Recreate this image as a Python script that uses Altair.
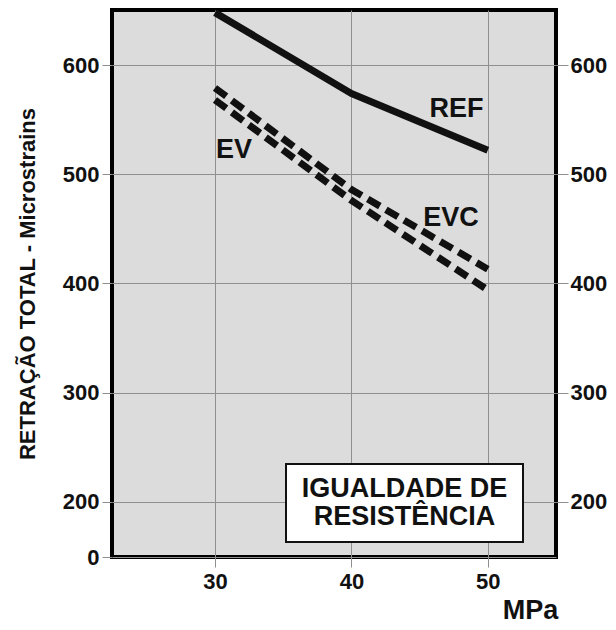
import altair as alt
import pandas as pd

# ---- data ----
mpa = [30, 40, 50]
ref = [648, 574, 522]
evc = [579, 486, 413]
ev = [568, 476, 394]

label_text = ["REF", "EV", "EVC"]
label_mpa = [47.7, 31.4, 47.3]
label_val = [560, 522, 460]

y_ticks_left = [149.4, 200, 300, 400, 500, 600]
y_ticks_right = [200, 300, 400, 500, 600]
x_ticks = [30, 40, 50]
box_lines = ["IGUALDADE DE", "RESISTÊNCIA"]

rows = []
for name, vals in [("REF", ref), ("EVC", evc), ("EV", ev)]:
    for m, v in zip(mpa, vals):
        rows.append({"serie": name, "mpa": m, "val": v})
df = pd.DataFrame(rows)
lab = pd.DataFrame({"t": label_text, "mpa": label_mpa, "val": label_val})

FONT = "Liberation Sans"
INK = "#111111"
GRID = "#8f8f8f"

xs = alt.Scale(domain=[22.45, 55], nice=False, zero=False)
ys = alt.Scale(domain=[149.4, 650.4], nice=False, zero=False)

xaxis = alt.Axis(
    values=x_ticks, grid=True, gridColor=GRID, gridWidth=1,
    domain=False, ticks=True, tickColor=GRID, tickSize=10, tickWidth=1,
    labelPadding=4, labelFont=FONT, labelFontSize=22, labelFontWeight="bold",
    labelColor=INK, title="MPa", titleFont=FONT, titleFontSize=27,
    titleFontWeight="bold", titleColor=INK, titleX=418, titleY=61,
    titleAlign="center", titleBaseline="alphabetic",
)
xenc = alt.X("mpa:Q", scale=xs, axis=xaxis)

left_axis = alt.Axis(
    values=y_ticks_left, orient="left", grid=True, gridColor=GRID, gridWidth=1,
    domain=False, tickColor=GRID, tickSize=10, tickWidth=1, labelPadding=3,
    labelFont=FONT, labelFontSize=22, labelFontWeight="bold", labelColor=INK,
    labelExpr="datum.value < 150 ? '0' : format(datum.value, 'd')",
    title="RETRAÇÃO TOTAL - Microstrains", titleFont=FONT, titleFontSize=22,
    titleFontWeight="bold", titleColor=INK, titleAngle=-90, titleX=-85,
    titleY=273.5, titleAlign="center", titleBaseline="middle",
)
right_axis = alt.Axis(
    values=y_ticks_right, orient="right", grid=False, domain=False,
    tickColor=GRID, tickSize=12, tickWidth=1, labelPadding=2,
    labelFont=FONT, labelFontSize=22, labelFontWeight="bold", labelColor=INK,
    labelExpr="format(datum.value, 'd')", title=None,
)

base = alt.Chart(df)

ref_line = base.transform_filter(alt.datum.serie == "REF").mark_line(
    color=INK, strokeWidth=7, strokeCap="butt", strokeJoin="round"
).encode(x=xenc, y=alt.Y("val:Q", scale=ys, axis=left_axis))

dash_lines = base.transform_filter(alt.datum.serie != "REF").mark_line(
    color=INK, strokeWidth=7, strokeDash=[14, 7], strokeCap="butt"
).encode(
    x=xenc, y=alt.Y("val:Q", scale=ys, axis=right_axis), detail="serie:N"
)

labels = alt.Chart(lab).mark_text(
    font=FONT, fontSize=27, fontWeight="bold", color=INK,
    align="center", baseline="middle",
).encode(x=xenc, y=alt.Y("val:Q", scale=ys, axis=None), text="t:N")

one = pd.DataFrame({"k": [0]})
box = alt.Chart(one).mark_rect(
    fill="white", stroke=INK, strokeWidth=2
).encode(
    x=alt.value(174), x2=alt.value(411), y=alt.value(454), y2=alt.value(532)
)
box_text = alt.Chart(one).mark_text(
    font=FONT, fontSize=27, fontWeight="bold", color=INK,
    align="center", baseline="middle", lineHeight=28,
).encode(x=alt.value(292.5), y=alt.value(479), text=alt.value(box_lines))

chart = alt.layer(ref_line, dash_lines, labels, box, box_text).resolve_axis(
    y="independent"
).properties(
    width=444, height=547,
    autosize=alt.AutoSizeParams(type="none"),
    padding={"left": 104, "top": 2, "right": 52, "bottom": 66},
    background="white",
).configure_view(
    stroke="#000000", strokeWidth=4, fill="#dcdcdc"
)

chart.save("out.html", embed_options={"renderer": "svg", "actions": False})
